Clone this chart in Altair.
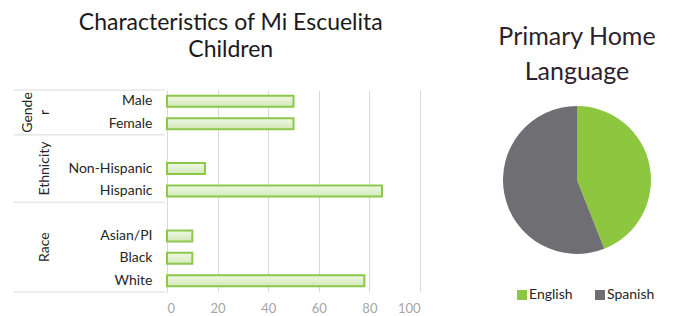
import altair as alt
import pandas as pd

# ---- data ----
categories = ["Male", "Female", " ", "Non-Hispanic", "Hispanic", "  ", "Asian/PI", "Black", "White"]
percents = [50, 50, None, 15, 85, None, 10, 10, 78]
group_labels = ["Gende\nr", "Ethnicity", "Race"]
group_sizes = [2, 3, 4]
x_ticks = [0, 20, 40, 60, 80, 100]

languages = ["English", "Spanish"]
language_share = [44, 56]

bars_df = pd.DataFrame({"category": categories, "percent": percents})
starts = [sum(group_sizes[:i]) for i in range(len(group_sizes))]
n_slots = sum(group_sizes)
groups_df = pd.DataFrame({"group": group_labels,
                          "center": [s + n / 2 for s, n in zip(starts, group_sizes)]})
edges_df = pd.DataFrame({"edge": starts + [n_slots]})
pie_df = pd.DataFrame({"language": languages, "share": language_share})

FONT = "Lato"

bar_fill = alt.Gradient(
    gradient="linear",
    stops=[alt.GradientStop(color="#f0f8e6", offset=0),
           alt.GradientStop(color="#d2e9b8", offset=1)],
    x1=0, x2=0, y1=0, y2=1,
)

bars = alt.Chart(bars_df).mark_bar(
    size=11, fill=bar_fill, stroke="#8cc84b", strokeWidth=2
).encode(
    x=alt.X("percent:Q", scale=alt.Scale(domain=[0, 100], nice=False),
            axis=alt.Axis(values=x_ticks, title=None, grid=True, gridColor="#d9d9d9",
                          domain=False, ticks=False, labelColor="#a6a6a6",
                          labelFontSize=13, labelPadding=10, labelFont=FONT)),
    y=alt.Y("category:N", scale=alt.Scale(domain=categories, paddingInner=0, paddingOuter=0),
            axis=alt.Axis(title=None, ticks=False, domain=True, domainColor="#d9d9d9",
                          labelColor="#262626", labelFontSize=14, labelPadding=15,
                          labelFont=FONT)),
)

slot_scale = alt.Scale(domain=[0, n_slots], reverse=True, nice=False, zero=False)

text_base = alt.Chart(groups_df).encode(
    y=alt.Y("center:Q", scale=slot_scale, axis=None),
    x=alt.value(-115),
    text="group:N",
)
text_style = dict(angle=270, align="center", baseline="bottom", lineBreak="\n",
                  fontSize=14, color="#262626", lineHeight=17, font=FONT)
group_text_single = text_base.transform_filter(
    "indexof(datum.group, '\\n') < 0").mark_text(**text_style)
group_text_multi = text_base.transform_filter(
    "indexof(datum.group, '\\n') >= 0").mark_text(dy=-17, **text_style)

separators = alt.Chart(edges_df).mark_rule(color="#d9d9d9", strokeWidth=1).encode(
    y=alt.Y("edge:Q", scale=slot_scale, axis=None),
    x=alt.value(-153),
    x2=alt.value(-2),
)

bar_chart = alt.layer(bars, separators, group_text_single, group_text_multi).resolve_scale(
    y="independent"
).properties(
    width=253, height=202,
    title=alt.TitleParams(text=["Characteristics of Mi Escuelita", "Children"],
                          fontSize=23, font=FONT, fontWeight="normal", color="#1a1a1a",
                          lineHeight=27, anchor="middle", frame="bounds", offset=28, dx=14),
)

pie = alt.Chart(pie_df).mark_arc(outerRadius=74).encode(
    theta=alt.Theta("share:Q", stack=True),
    color=alt.Color("language:N",
                    scale=alt.Scale(domain=languages, range=["#8dc63f", "#6f6f73"]),
                    legend=alt.Legend(title=None, orient="none", legendX=18, legendY=198,
                                      direction="horizontal",
                                      symbolType="square", symbolSize=100, symbolStrokeWidth=0,
                                      labelFontSize=14, labelColor="#262626", labelFont=FONT,
                                      labelOffset=0, columnPadding=20)),
    order=alt.Order("language:N"),
).properties(
    width=160, height=180,
    title=alt.TitleParams(text=["Primary Home", "Language"], fontSize=25, font=FONT,
                          fontWeight="normal", color="#2e1f2e", lineHeight=35,
                          anchor="middle", offset=5),
)

chart = alt.hconcat(bar_chart, pie, spacing=77, bounds="flush").resolve_scale(
    color="independent"
).configure_view(stroke=None).properties(
    padding={"top": 3, "left": 5, "right": 5, "bottom": 5}
)

chart.save("out.html", embed_options={"renderer": "svg", "actions": False})
